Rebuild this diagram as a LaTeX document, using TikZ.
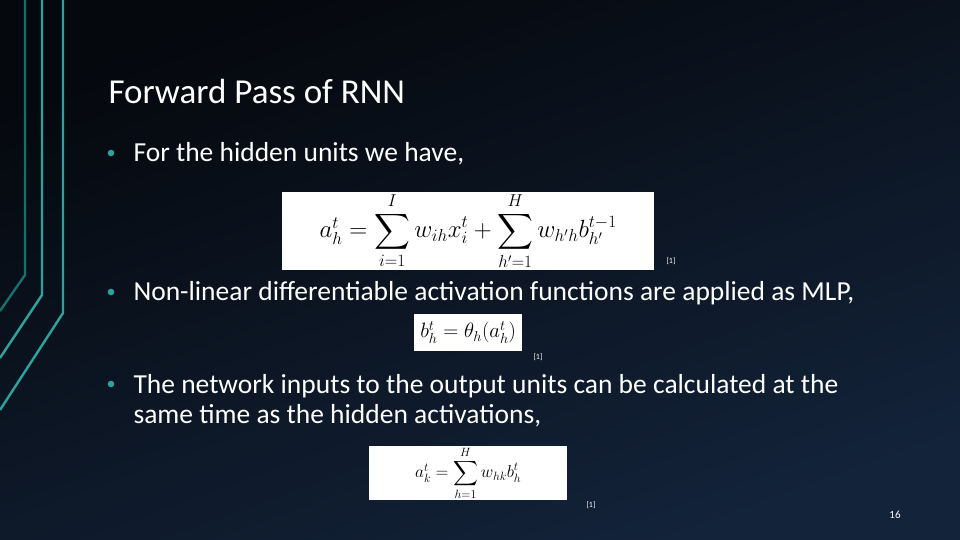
\documentclass[tikz,border=0pt]{standalone}
\usepackage{amsmath}
\usepackage{fontspec}
\setmainfont{Carlito}
\usetikzlibrary{positioning}
\definecolor{teal1}{HTML}{1E8C8A}
\definecolor{teal2}{HTML}{2AA39F}
\definecolor{bgtop}{HTML}{05080D}
\definecolor{bgbot}{HTML}{13233A}
\tikzset{
    deco/.style={line width=2.4pt, teal2},
    formula/.style={fill=white, text=black, inner sep=0pt, anchor=north west},
    bullet/.style={anchor=base west, text=white, font=\fontsize{27.5}{30}\selectfont},
    cite/.style={anchor=base west, text=white, font=\fontsize{8}{9}\selectfont}
}
\begin{document}
\begin{tikzpicture}[x=1pt, y=-1pt]
    \useasboundingbox (0,0) rectangle (960,540);
    \shade[top color=bgtop, bottom color=bgbot, shading angle=20] (0,0) rectangle (960,540);
    % left decoration
    \draw[deco, teal1!80!black] (25,0) -- (25,275) -- (0,311);
    \draw[deco] (42,0) -- (42,295) -- (0,358);
    \draw[deco] (63,0) -- (63,313) -- (0,410);
    % title
    \node[anchor=base west, text=white, font=\fontsize{35}{40}\selectfont] (title) at (105,104) {Forward Pass of RNN};
    % bullets
    \node[bullet] (b1) at (130,162) {For the hidden units we have,};
    \node[bullet] (b2) at (130,300) {Non-linear differentiable activation functions are applied as MLP,};
    \node[bullet] (b3) at (130,393) {The network inputs to the output units can be calculated at the};
    \node[bullet] (b3b) at (130,423) {same time as the hidden activations,};
    \foreach \y in {153,292,384} \fill[teal2] (111,\y) circle (3.3pt);
    % formulas
    \node[formula, minimum width=372pt, minimum height=78pt, font=\fontsize{24}{28}\selectfont] (f1) at (282,192)
        {$a_h^t=\displaystyle\sum_{i=1}^{I} w_{ih}x_i^t+\sum_{h'=1}^{H} w_{h'h}b_{h'}^{t-1}$};
    \node[formula, minimum width=108pt, minimum height=37pt, font=\fontsize{20}{22}\selectfont] (f2) at (414,314)
        {$b_h^t=\theta_h(a_h^t)$};
    \node[formula, minimum width=198pt, minimum height=53pt, font=\fontsize{17}{20}\selectfont] (f3) at (369,446)
        {$a_k^t=\displaystyle\sum_{h=1}^{H} w_{hk}b_h^t$};
    \node[cite] (c1) at (663,263) {[1]};
    \node[cite] (c2) at (530,359) {[1]};
    \node[cite] (c3) at (583,507) {[1]};
    \node[anchor=base, text=white, font=\fontsize{11}{12}\selectfont] (page) at (895,518) {16};
\end{tikzpicture}
\end{document}
